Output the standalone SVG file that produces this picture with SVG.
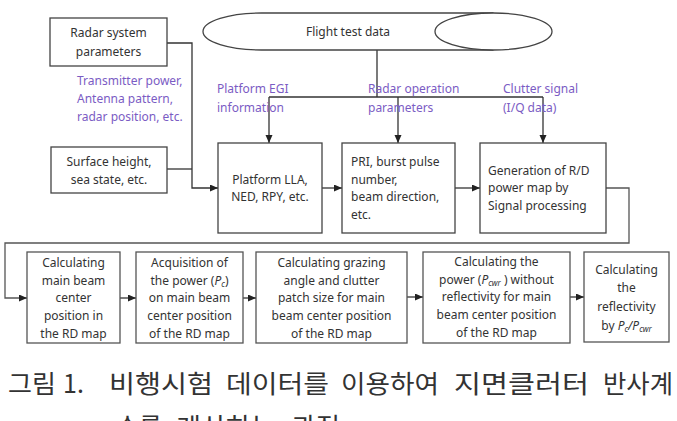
<svg xmlns="http://www.w3.org/2000/svg" width="677" height="421" viewBox="0 0 677 421">
<defs>
<marker id="arr" markerUnits="userSpaceOnUse" markerWidth="9" markerHeight="8" refX="8" refY="3.5" orient="auto">
<path d="M0,0 L8,3.5 L0,7 z" fill="#222"/>
</marker>
<style>
.box{fill:#fff;stroke:#444;stroke-width:1.3}
.box2{fill:#fff;stroke:#555;stroke-width:1.3}
.t{font-family:"Noto Sans","Open Sans","DejaVu Sans",sans-serif;font-size:12px;fill:#333}
.c{text-anchor:middle}
.p{font-family:"Noto Sans","Open Sans","DejaVu Sans",sans-serif;font-size:12px;fill:#7b5cc4}
.ln{fill:none;stroke:#333;stroke-width:1.3}
.cap{font-family:"Noto Sans CJK KR","Noto Sans",sans-serif;font-size:25px;fill:#333}
.i{font-style:italic}
.s{font-size:8px;font-style:italic}
</style>
</defs>
<rect width="677" height="421" fill="#fff"/>

<g id="connectors">
<path class="ln" d="M167,43 H192 V188 H218" marker-end="url(#arr)"/>
<path class="ln" d="M167,169 H192"/>
<path class="ln" d="M377,50 V97"/>
<path class="ln" d="M269,97 H543"/>
<path class="ln" d="M269,97 V143" marker-end="url(#arr)"/>
<path class="ln" d="M398,97 V143" marker-end="url(#arr)"/>
<path class="ln" d="M543,97 V143" marker-end="url(#arr)"/>
<path class="ln" d="M322,188 H342" marker-end="url(#arr)"/>
<path class="ln" d="M455,188 H480" marker-end="url(#arr)"/>
<path class="ln" d="M606,188 H629 V243 H5 V298 H27" marker-end="url(#arr)" style="stroke:#555"/>
<path class="ln" d="M120,298 H136" marker-end="url(#arr)"/>
<path class="ln" d="M243,298 H256" marker-end="url(#arr)"/>
<path class="ln" d="M407,297 H423" marker-end="url(#arr)"/>
<path class="ln" d="M570,297 H584" marker-end="url(#arr)"/>
</g>

<g id="flight-test-data">
<path class="box" d="M493.5,13 H261.5 A58.5,18.5 0 0 0 261.5,50 H493.5"/>
<ellipse class="box" cx="493.5" cy="31.5" rx="58.5" ry="18.5"/>
<text class="t c" x="348" y="36">Flight test data</text>
</g>

<g id="radar-system-parameters">
<rect class="box" x="50" y="18" width="117" height="48"/>
<text class="t c" x="108.5" y="37">Radar system</text>
<text class="t c" x="108.5" y="56">parameters</text>
</g>

<g id="surface-height">
<rect class="box" x="51" y="147" width="116" height="46"/>
<text class="t c" x="109" y="166">Surface height,</text>
<text class="t c" x="109" y="184">sea state, etc.</text>
</g>

<g id="labels">
<text class="p" x="77" y="85">Transmitter power,</text>
<text class="p" x="77" y="103">Antenna pattern,</text>
<text class="p" x="77" y="121">radar position, etc.</text>
<text class="p" x="217" y="93">Platform EGI</text>
<text class="p" x="217" y="112">information</text>
<text class="p" x="368" y="93">Radar operation</text>
<text class="p" x="368" y="112">parameters</text>
<text class="p" x="503" y="93">Clutter signal</text>
<text class="p" x="503" y="112">(I/Q data)</text>
</g>

<g id="platform-lla">
<rect class="box" x="218" y="143" width="104" height="90"/>
<text class="t c" x="270" y="184">Platform LLA,</text>
<text class="t c" x="270" y="201">NED, RPY, etc.</text>
</g>

<g id="pri">
<rect class="box" x="342" y="143" width="113" height="90"/>
<text class="t" x="351" y="166">PRI, burst pulse</text>
<text class="t" x="351" y="184">number,</text>
<text class="t" x="351" y="201">beam direction,</text>
<text class="t" x="351" y="219">etc.</text>
</g>

<g id="generation">
<rect class="box" x="480" y="143" width="126" height="90"/>
<text class="t" x="488" y="175">Generation of R/D</text>
<text class="t" x="488" y="192">power map by</text>
<text class="t" x="488" y="210">Signal processing</text>
</g>

<g id="main-beam-center">
<rect class="box2" x="27" y="252" width="93" height="91"/>
<text class="t c" x="73.5" y="267">Calculating</text>
<text class="t c" x="73.5" y="285">main beam</text>
<text class="t c" x="73.5" y="302">center</text>
<text class="t c" x="73.5" y="320">position in</text>
<text class="t c" x="73.5" y="338">the RD map</text>
</g>

<g id="acquisition-power">
<rect class="box2" x="136" y="252" width="107" height="91"/>
<text class="t c" x="189.5" y="267">Acquisition of</text>
<text class="t c" x="189.5" y="285">the power (<tspan class="i">P</tspan><tspan class="s" dy="2">c</tspan><tspan dy="-2">)</tspan></text>
<text class="t c" x="189.5" y="302">on main beam</text>
<text class="t c" x="189.5" y="320">center position</text>
<text class="t c" x="189.5" y="338">of the RD map</text>
</g>

<g id="grazing-angle">
<rect class="box2" x="256" y="252" width="151" height="91"/>
<text class="t c" x="331.5" y="267">Calculating grazing</text>
<text class="t c" x="331.5" y="285">angle and clutter</text>
<text class="t c" x="331.5" y="302">patch size for main</text>
<text class="t c" x="331.5" y="320">beam center position</text>
<text class="t c" x="331.5" y="338">of the RD map</text>
</g>

<g id="power-without-reflectivity">
<rect class="box2" x="423" y="252" width="147" height="91"/>
<text class="t c" x="496.5" y="266">Calculating the</text>
<text class="t c" x="496.5" y="284">power (<tspan class="i">P</tspan><tspan class="s" dy="2">cwr</tspan><tspan dy="-2"> ) without</tspan></text>
<text class="t c" x="496.5" y="301">reflectivity  for main</text>
<text class="t c" x="496.5" y="319">beam center position</text>
<text class="t c" x="496.5" y="337">of the RD map</text>
</g>

<g id="reflectivity">
<rect class="box2" x="584" y="252" width="85" height="90"/>
<text class="t c" x="626.5" y="274">Calculating</text>
<text class="t c" x="626.5" y="292">the</text>
<text class="t c" x="626.5" y="311">reflectivity</text>
<text class="t c" x="626.5" y="330">by <tspan class="i">P</tspan><tspan class="s" dy="2">c</tspan><tspan dy="-2" class="i">/P</tspan><tspan class="s" dy="2">cwr</tspan></text>
</g>

<g id="caption">
<text class="cap" y="393"><tspan x="8" textLength="48" lengthAdjust="spacingAndGlyphs">그림</tspan><tspan x="63">1.</tspan><tspan x="109" textLength="104" lengthAdjust="spacingAndGlyphs">비행시험</tspan><tspan x="226" textLength="103" lengthAdjust="spacingAndGlyphs">데이터를</tspan><tspan x="341" textLength="98" lengthAdjust="spacingAndGlyphs">이용하여</tspan><tspan x="454" textLength="135" lengthAdjust="spacingAndGlyphs">지면클러터</tspan><tspan x="603" textLength="70" lengthAdjust="spacingAndGlyphs">반사계</tspan></text>
<text class="cap" y="436"><tspan x="116" textLength="46" lengthAdjust="spacingAndGlyphs">수를</tspan><tspan x="176" textLength="100" lengthAdjust="spacingAndGlyphs">계산하는</tspan><tspan x="292" textLength="48" lengthAdjust="spacingAndGlyphs">과정</tspan></text>
</g>
</svg>
